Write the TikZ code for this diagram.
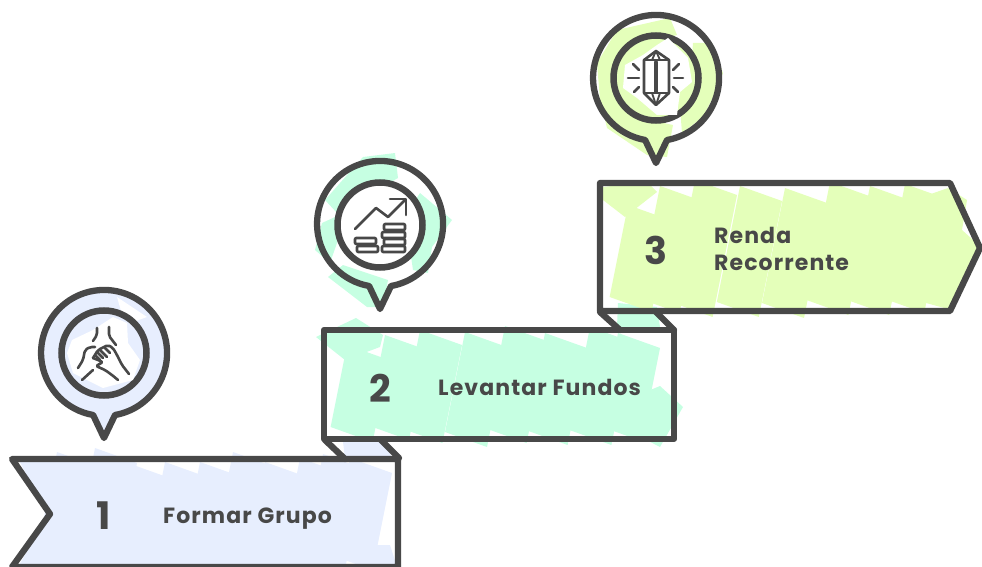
\documentclass[tikz,border=0pt]{standalone}
\usepackage{fontspec}
\setmainfont{Poppins}[LetterSpace=5]
\definecolor{inkgrey}{HTML}{484848}
\definecolor{brushone}{HTML}{E7EEFE}
\definecolor{brushtwo}{HTML}{C6FFE2}
\definecolor{brushthree}{HTML}{E4FFBA}
\tikzset{
  outline/.style={draw=inkgrey,line width=6.3pt,line join=round,line cap=round},
  ringline/.style={circle,draw=inkgrey,line width=6.5pt,minimum size=85pt,inner sep=0pt},
  iconline/.style={draw=inkgrey,line width=2.6pt,line join=round,line cap=round},
  number/.style={text=inkgrey,font=\fontsize{38}{38}\selectfont\bfseries},
  caption/.style={text=inkgrey,anchor=base west,inner sep=0pt,font=\fontsize{22}{27}\selectfont\bfseries},
}
\begin{document}
\begin{tikzpicture}[x=1pt,y=-1pt]
  \useasboundingbox (0,0) rectangle (982,567);
  % folds behind the banners
  \fill[brushone] (343,442) -- (384,442) -- (392,458) -- (345,458) -- cycle;
  \fill[brushtwo] (618,303) -- (657,307) -- (660,327) -- (617,327) -- cycle;
  % banner fills
  \fill[brushone] (20,462) -- (95,462) -- (75,567) -- (18,567) -- (47,516) -- cycle;
  \foreach \tx/\ty/\by in {57/452/567,95/448/567,125/462/567,165/462/567,200/462/567,233/452/567,265/462/567,300/458/567,323/454/562,350/458/555}
    \fill[brushone] (\tx,\ty) -- (\tx+42,\ty+15) -- ({\tx+42-0.2*(\by-\ty)},\by+15) -- ({\tx-0.2*(\by-\ty)},\by) -- cycle;
  \fill[brushone] (372,545) -- (390,545) -- (397,567) -- (365,567) -- cycle;
  \fill[brushtwo] (316,337) -- (356,318) -- (383,335) -- (380,347) -- (345,360) -- cycle;
  \foreach \tx/\ty/\by in {347/345/427,385/335/425,420/330/428,465/332/432,505/326/428,545/333/430,590/327/430,618/333/426}
    \fill[brushtwo] (\tx,\ty) -- (\tx+42,\ty+15) -- ({\tx+42-0.2*(\by-\ty)},\by+15) -- ({\tx-0.2*(\by-\ty)},\by) -- cycle;
  \fill[brushtwo] (643,393) -- (660,386) -- (683,407) -- (660,447) -- (633,433) -- cycle;
  \fill[brushthree] (603,187) -- (647,182) -- (657,192) -- (625,217) -- (603,200) -- cycle;
  \foreach \tx/\ty/\by in {628/205/297,660/186/298,695/180/302,740/186/302,785/188/303,830/182/300,870/186/300,905/184/298}
    \fill[brushthree] (\tx,\ty) -- (\tx+42,\ty+15) -- ({\tx+42-0.2*(\by-\ty)},\by+15) -- ({\tx-0.2*(\by-\ty)},\by) -- cycle;
  \fill[brushthree] (928,195) -- (948,188) -- (967,200) -- (962,230) -- (982,248) -- (948,309) -- (915,300) -- cycle;
  % pin fills
  \fill[brushone] (104,353) circle[radius=63pt];
  \fill[brushone] (93,415) -- (115,415) -- (104,438) -- cycle;
  \fill[white] (117,297) -- (147,317) -- (125,325) -- cycle;
  \fill[brushtwo] (363,157) -- (395,153) -- (398,178) -- (377,190) -- (347,200) -- (337,213) -- (325,200) -- cycle;
  \fill[brushtwo] (315,250) -- (322,223) -- (335,217) -- (337,243) -- (330,263) -- cycle;
  \fill[brushtwo] (328,277) -- (343,265) -- (388,280) -- (383,307) -- (367,307) -- cycle;
  \fill[brushtwo] (420,193) -- (452,220) -- (432,247) -- (428,273) -- (413,270) -- (410,250) -- (425,230) -- (407,213) -- cycle;
  \fill[brushthree] (597,63) -- (617,30) -- (670,18) -- (677,35) -- (650,42) -- (625,60) -- (618,90) -- (640,118) -- (673,125) -- (667,157) -- (647,155) -- (607,128) -- (600,100) -- cycle;
  \fill[brushthree] (693,43) -- (712,43) -- (723,73) -- (715,93) -- (703,117) -- (682,133) -- (680,107) -- (690,83) -- cycle;
  % pins
  \foreach \cx/\cy in {104/353,380/224,656/78}
    \draw[outline] (\cx+11,\cy+62) arc[start angle=-80,end angle=260,radius=63pt] -- (\cx,\cy+85) -- cycle;
  \node[ringline,fill=brushone] (ring1) at (104,353) {};
  \node[ringline,fill=white] (ring2) at (380,225) {};
  \node[ringline,fill=brushthree] (ring3) at (656,78) {};
  \fill[white] (72,340) -- (93,330) -- (113,317) -- (127,323) -- (128,343) -- (140,360) -- (133,380) -- (103,388) -- (73,373) -- (67,353) -- cycle;
  \fill[white] (623,88) -- (625,65) -- (643,55) -- (657,45) -- (668,38) -- (688,58) -- (692,82) -- (680,92) -- (677,115) -- (657,115) -- (637,98) -- cycle;
  % icon of the hands
  \draw[iconline,rounded corners=2pt] (97,328) -- (97,335) -- (93,341);
  \draw[iconline,rounded corners=2pt] (109,327) -- (109,336) -- (116,345);
  \draw[iconline,rounded corners=2pt] (78,368) -- (83,360) -- (85,350) -- (90,347) -- (95,347);
  \draw[iconline,rounded corners=2pt] (93,358) -- (98,350) -- (108,345) -- (113,348) -- (117,355) -- (122,365) -- (129,374);
  \draw[iconline] (95,355) -- (100,360);
  \draw[iconline] (97,352) -- (103,358);
  \draw[iconline] (100,350) -- (107,357);
  \draw[iconline] (105,348) -- (110,353);
  \draw[iconline,rounded corners=2pt] (93,358) -- (103,362) -- (96,366) -- (105,370) -- (112,375) -- (118,380);
  \draw[iconline] (82,380) -- (93,370);
  % icon of the coins
  \draw[iconline] (355,229) -- (376,208) -- (388,217) -- (405,200);
  \draw[iconline] (390,199) -- (406,199) -- (406,215);
  \foreach \ax/\ay/\bx/\by in {384/224/405/230,382/232/405/238,384/239/405/245,382/246/405/252,355/238/376/244,357/246/378/252}
    \draw[iconline,rounded corners=1pt] (\ax,\ay) rectangle (\bx,\by);
  % icon of the crystal
  \draw[iconline] (656,51) -- (669,60) -- (669,93) -- (656,105) -- (644,93) -- (644,60) -- cycle;
  \draw[iconline,line width=1.8pt] (644,60) -- (669,60) (656,51) -- (652,60) (656,51) -- (660,60) (644,93) -- (669,93) (656,105) -- (652,93) (656,105) -- (660,93);
  \draw[iconline,line width=3.2pt] (656,62) -- (656,92);
  \foreach \ax/\ay/\bx/\by in {628/78/639/78,674/78/683/78,633/64/639/70,679/64/673/70,634/92/639/87,678/92/673/87}
    \draw[iconline] (\ax,\ay) -- (\bx,\by);
  % folds
  \draw[outline] (325,440) -- (345,459);
  \draw[outline] (381,440) -- (399,458);
  \draw[outline] (600,312) -- (620,330);
  \draw[outline] (656,312) -- (674,330);
  % banners
  \draw[outline] (12,459) -- (398,459) -- (398,567) -- (12,567) -- (50,514) -- cycle;
  \draw[outline] (324,330) -- (674,330) -- (674,439) -- (324,439) -- cycle;
  \draw[outline] (600,183) -- (950,183) -- (980,248) -- (950,311) -- (600,311) -- cycle;
  % labels
  \node[number] (num1) at (104,516) {1};
  \node[number] (num2) at (380,388) {2};
  \node[number] (num3) at (656,250) {3};
  \node[caption] (cap1) at (163,523) {Formar Grupo};
  \node[caption] (cap2) at (438,395) {Levantar Fundos};
  \node[caption] (cap3) at (714,243) {\begin{tabular}[t]{@{}l@{}}Renda\\Recorrente\end{tabular}};
\end{tikzpicture}
\end{document}
